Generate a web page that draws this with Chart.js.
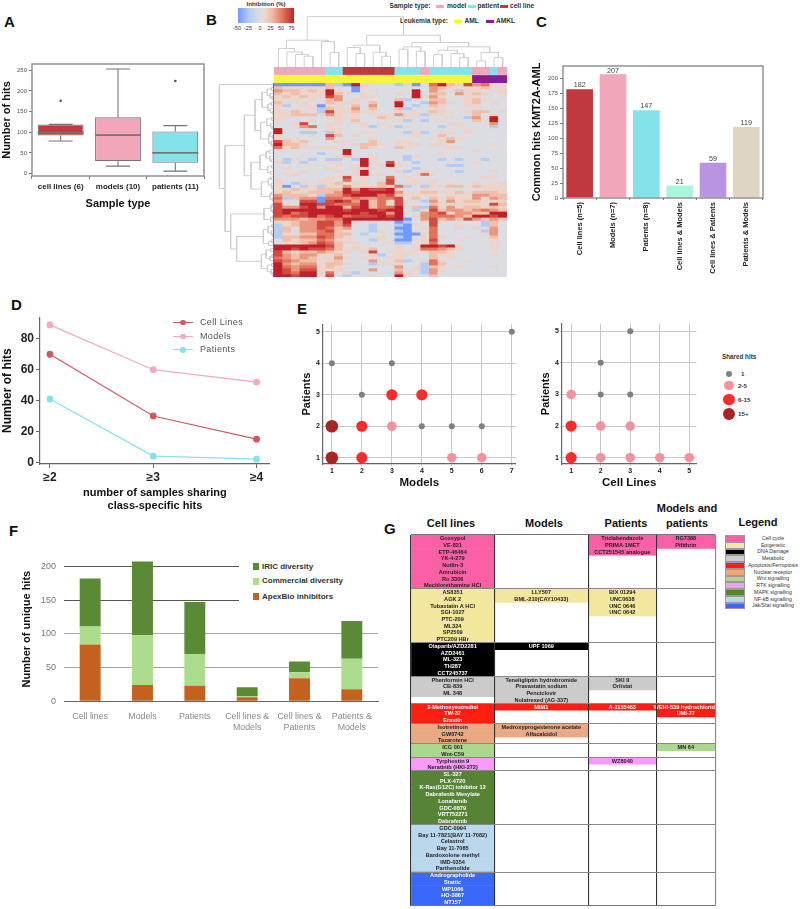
<!DOCTYPE html>
<html>
<head>
<meta charset="utf-8">
<script src="https://cdn.jsdelivr.net/npm/chart.js@4"></script>
<style>
  html, body { margin: 0; padding: 0; background: #fff; }
  #page { position: relative; width: 800px; height: 909px; overflow: hidden; font-family: "Liberation Sans", Arial, sans-serif; }
  #page canvas { position: absolute; }
  .t { position: absolute; white-space: nowrap; line-height: 1; }
  .box { position: absolute; }
</style>
</head>
<body>
<div id="page"></div>
<script>
// Panel A - box plot
const boxLabels = ['cell lines (6)', 'models (10)', 'patients (11)'];
const boxQ1 = [92, 30, 26];
const boxMedian = [99, 93, 50];
const boxQ3 = [119, 136, 102];
const boxLow = [79, 18, 6];
const boxHigh = [119, 253, 116];
const boxOutliers = [176, null, 224];

// Panel B - heatmap, one string per row, digits are levels of levelValues
const levelValues = [-50, -25, 0, 12, 25, 38, 50, 62, 75];
const heatRows = [
  '000000 41 083222 130 2 68437 56 3 3',
  '433333 42 203222 222 2 54323 34 2 3',
  '544343 83 202322 228 2 53243 32 3 3',
  '434333 84 323222 328 2 44253 43 2 3',
  '343433 75 223322 228 3 53223 32 2 2',
  '323232 45 232222 412 2 44223 43 2 2',
  '433323 43 332422 822 1 54323 42 3 2',
  '312330 33 242522 821 2 43223 32 2 2',
  '323231 43 352422 412 2 33222 32 2 2',
  '334321 73 343322 323 2 43323 44 2 3',
  '334443 53 232333 533 1 33222 42 3 2',
  '332222 33 332243 232 2 22321 52 8 2',
  '322232 23 242222 312 1 23222 43 8 2',
  '223722 33 223232 222 2 22332 22 5 2',
  '222562 32 223123 132 2 21232 22 1 2',
  '822222 33 222222 222 2 22223 22 2 2',
  '822112 13 223322 213 1 23323 22 2 2',
  '322232 74 232222 223 2 24222 22 2 2',
  '333222 52 222322 222 2 33432 22 2 2',
  '743422 23 322422 332 2 23522 22 2 2',
  '844322 22 234432 333 2 33222 22 3 2',
  '634333 33 224322 432 2 22332 22 2 2',
  '222222 22 822222 222 2 22222 32 2 2',
  '222221 22 822222 222 2 23222 22 2 2',
  '222222 23 422322 213 2 22222 22 2 2',
  '213212 11 218322 212 2 21212 21 2 2',
  '312122 33 228327 221 2 22222 32 2 2',
  '222232 23 238238 322 2 22112 22 2 2',
  '232222 32 233322 221 2 22222 22 2 2',
  '222322 23 238222 312 3 22212 22 3 2',
  '233222 22 238332 223 6 32222 22 2 2',
  '222222 33 723226 232 2 22222 23 3 2',
  '322223 32 623237 223 2 32222 22 2 2',
  '321323 34 333247 233 3 32322 32 3 3',
  '302131 33 533343 612 1 33443 43 3 3',
  '334334 44 858778 322 3 22222 23 3 3',
  '343344 45 878888 533 4 43343 44 4 3',
  '544431 55 788867 433 3 32333 55 4 4',
  '614550 66 565566 724 2 43433 53 5 4',
  '522770 78 758463 732 1 53534 43 3 3',
  '732887 76 668463 722 2 43333 33 7 4',
  '755785 88 478466 834 1 63534 43 4 3',
  '788888 88 788878 821 3 74554 56 5 4',
  '786788 88 887885 822 5 67355 44 8 8',
  '767786 78 677787 823 5 66654 88 7 8',
  '555455 66 888888 802 5 74547 54 5 4',
  '334557 75 832322 012 3 73222 21 4 2',
  '134557 75 722122 103 2 72232 21 4 2',
  '142557 64 522122 002 3 62232 32 5 2',
  '143556 74 322132 103 2 62222 21 5 2',
  '132446 64 421222 000 3 62222 23 5 2',
  '144557 64 322232 102 3 63223 22 4 2',
  '243446 53 322132 003 3 72232 22 3 2',
  '233457 64 332223 112 3 62222 22 3 2',
  '888888 74 232222 323 8 87832 22 3 2',
  '887877 64 333422 323 6 65432 22 3 2',
  '743445 43 323723 333 3 44322 22 2 2',
  '754553 34 222312 332 2 43322 22 3 2',
  '654543 35 323323 322 2 42322 22 2 2',
  '765443 34 222522 412 3 63223 22 2 2',
  '854553 44 322133 322 1 64222 22 2 2',
  '865663 43 222222 523 1 43232 22 3 2',
  '875773 33 222522 423 1 53222 22 2 2',
  '876883 62 312222 532 1 52222 22 2 2',
  '887882 72 122322 832 2 42222 22 2 2'
];
const sampleTypes = ['model', 'model', 'model', 'model', 'model', 'model', 'patient', 'patient',
  'cell line', 'cell line', 'cell line', 'cell line', 'cell line', 'cell line',
  'patient', 'patient', 'patient', 'model', 'patient', 'patient', 'patient', 'patient', 'patient',
  'model', 'model', 'patient', 'model'];
const leukemiaTypes = ['AML', 'AML', 'AML', 'AML', 'AML', 'AML', 'AML', 'AML', 'AML', 'AML', 'AML', 'AML', 'AML', 'AML',
  'AML', 'AML', 'AML', 'AML', 'AML', 'AML', 'AML', 'AML', 'AML', 'AMKL', 'AMKL', 'AMKL', 'AMKL'];

// dendrograms as [left, right, height], numbers are leaves
const colTree = [
  [[0, [1, [2, [3, 4, 32], 37], 45], 55], [5, [6, 7, 43], 76], 80],
  [[[8, [9, 10, 40], 58], [11, [12, 13, 32], 44], 65],
   [[[14, 15, 53], [16, 17, 47], 60],
    [[[18, 19, 37], [20, [21, 22, 28], 40], 50], [[23, 24, 18], [25, 26, 28], 43], 60], 73], 95],
  150
];
const rowU1a = [[[1, 2, 8], [3, [4, 5, 6], 12], 20], [[6, 7, 9], [8, [9, 10, 5], 11], 18], 36];
const rowU1b = [[[11, 12, 7], [13, [14, 15, 6], 10], 22], [[16, [17, 18, 5], 12], [19, [20, 21, 6], 9], 16], 40];
const rowU2a = [[[22, 23, 14], [24, [25, 26, 8], 13], 24], [[27, 28, 7], [29, 30, 10], 19], 42];
const rowU2b = [[[31, 32, 9], [33, [34, 35, 6], 8], 17], [[36, 37, 7], [38, 39, 5], 12], 38];
const rowL1 = [[[40, 41, 6], [42, 43, 4], 9], [[44, 45, 5], 46, 10], 30];
const rowL2a = [[[47, 48, 6], [49, [50, 51, 4], 8], 18], [[52, 53, 7], 54, 16], 32];
const rowL2b = [[[55, 56, 10], [[57, 58, 6], 59, 12], 24], [[60, 61, 7], [62, [63, 64, 5], 9], 20], 38];
const rowTree = [0,
  [[[rowU1a, rowU1b, 57], [rowU2a, rowU2b, 69], 89],
   [rowL1, [rowL2a, rowL2b, 112], 130], 147],
  164];

// Panel C
const commonLabels = ['Cell lines (n=5)', 'Models (n=7)', 'Patients (n=8)', 'Cell lines & Models', 'Cell lines & Patients', 'Patients & Models'];
const commonHits = [182, 207, 147, 21, 59, 119];

// Panel D
const sharingSteps = [2, 3, 4];
const sharingCellLines = [70, 30, 15];
const sharingModels = [89, 60, 52];
const sharingPatients = [41, 4, 2];

// Panel E - class is an index in sharedClasses
const sharedClasses = ['1', '2-5', '6-15', '15+'];
const modelsX = [1, 2, 5, 6, 1, 2, 3, 4, 5, 6, 2, 3, 4, 1, 3, 7];
const modelsY = [1, 1, 1, 1, 2, 2, 2, 2, 2, 2, 3, 3, 3, 4, 4, 5];
const modelsClass = [3, 2, 1, 1, 3, 2, 1, 0, 0, 0, 0, 2, 2, 0, 0, 0];
const cellLinesX = [1, 2, 3, 4, 5, 1, 2, 3, 1, 2, 3, 2, 3];
const cellLinesY = [1, 1, 1, 1, 1, 2, 2, 2, 3, 3, 3, 4, 5];
const cellLinesClass = [2, 1, 1, 1, 1, 2, 1, 1, 1, 0, 0, 0, 0];

// Panel F
const uniqueLabels = ['Cell lines', 'Models', 'Patients', ['Cell lines &', 'Models'], ['Cell lines &', 'Patients'], ['Patients &', 'Models']];
const apexBio = [84, 24, 23, 6, 34, 18];
const commercial = [27, 74, 47, 2, 9, 45];
const iric = [71, 109, 77, 13, 16, 56];

// Panel G - one entry per group in each column
const groupNames = ['Cell cycle', 'Epigenetic', 'DNA Damage', 'Metabolic', 'Apoptosis/Ferroptosis', 'Nuclear receptor', 'Wnt signalling', 'RTK signalling', 'MAPK signalling', 'NF-kB signalling', 'Jak/Stat signalling'];
const tableCellLines = [
  ['Gossypol', 'VE-821', 'ETP-46464', 'YK-4-279', 'Nutlin-3', 'Amrubicin', 'Ro 3306', 'Mechlorethamine HCl'],
  ['AS8351', 'AGK 2', 'Tubastatin A HCl', 'SGI-1027', 'PTC-209', 'ML324', 'SP2509', 'PTC209 HBr'],
  ['Olaparib/AZD2281', 'AZD2461', 'ML-323', 'TH287', 'CCT245737'],
  ['Phenformin HCl', 'CB-839', 'ML 348'],
  ['2-Methoxyestradiol', 'TW-37', 'Erastin'],
  ['Isotretinoin', 'GW0742', 'Tazarotene'],
  ['ICG 001', 'Wnt-C59'],
  ['Tyrphostin 9', 'Neratinib (HKI-272)'],
  ['SL-327', 'PLX-4720', 'K-Ras(G12C) inhibitor 12', 'Dabrafenib Mesylate', 'Lonafarnib', 'GDC-0879', 'VRT752271', 'Dabrafenib'],
  ['GDC-0994', 'Bay 11-7821(BAY 11-7082)', 'Celastrol', 'Bay 11-7085', 'Bardoxolone methyl', 'IMD-0354', 'Parthenolide'],
  ['Andrographolide', 'Stattic', 'WP1066', 'HO-3867', 'NT157']
];
const tableModels = [
  [],
  ['LLY507', 'BML-210(CAY10433)'],
  ['UPF 1069'],
  ['Teneligliptin hydrobromide', 'Pravastatin sodium', 'Penciclovir', 'Nolatrexed (AG-337)'],
  ['MIM1'],
  ['Medroxyprogesterone acetate', 'Alfacalcidol'],
  [], [], [], [], []
];
const tablePatients = [
  ['Triclabendazole', 'PRIMA-1MET', 'CCT251545 analogue'],
  ['BIX 01294', 'UNC0638', 'UNC 0646', 'UNC 0642'],
  [],
  ['SKI II', 'Orlistat'],
  ['A-1155463'],
  [], [],
  ['WZ8040'],
  [], [], []
];
const tableBoth = [
  ['RG7388', 'Pifithrin'],
  [], [], [],
  ['WEHI-539 hydrochloride', 'UMI-77'],
  [],
  ['MN 64'],
  [], [], [], []
];

// shared styling
const FONT = '"Liberation Sans", Arial, sans-serif';
Chart.defaults.animation = false;
Chart.defaults.responsive = false;
Chart.defaults.font.family = FONT;
Chart.defaults.plugins.legend.display = false;
Chart.defaults.plugins.tooltip.enabled = false;

const page = document.getElementById('page');
const RED = '#c1393f', PINK = '#f1a6ba', TEAL = '#85e1ea';

function mount(left, top, w, h) {
  const c = document.createElement('canvas');
  c.width = w; c.height = h;
  c.style.left = left + 'px';
  c.style.top = top + 'px';
  c.style.width = w + 'px';
  c.style.height = h + 'px';
  page.appendChild(c);
  return c.getContext('2d');
}
function text(str, x, y, css) {
  const d = document.createElement('div');
  d.className = 't';
  d.textContent = str;
  d.style.cssText = 'left:' + x + 'px;top:' + y + 'px;' + (css || '');
  page.appendChild(d);
}
function box(x, y, w, h, css) {
  const d = document.createElement('div');
  d.className = 'box';
  d.style.cssText = 'left:' + x + 'px;top:' + y + 'px;width:' + w + 'px;height:' + h + 'px;' + css;
  page.appendChild(d);
}
// fixed axis size, and no room kept for the tick labels so the plot area stays where it is put
const noPad = s => { s.paddingTop = s.paddingBottom = s.paddingLeft = s.paddingRight = 0; };
const fitW = w => s => { s.width = w; noPad(s); };
const fitH = h => s => { s.height = h; noPad(s); };
const frame = {
  id: 'frame',
  afterDraw(chart) {
    const a = chart.chartArea, c = chart.ctx;
    c.save();
    c.strokeStyle = '#8a8a8a';
    c.lineWidth = 1.4;
    c.strokeRect(a.left, a.top, a.right - a.left, a.bottom - a.top);
    c.restore();
  }
};

// panel letters
[['A', 4, 14], ['B', 206, 12], ['C', 536, 14], ['D', 11, 297], ['E', 297, 301], ['F', 9, 523], ['G', 384, 521]].forEach(p => {
  text(p[0], p[1], p[2], 'font-size:15px;font-weight:bold;color:#111;');
});

// A
const boxParts = {
  id: 'boxParts',
  afterDatasetsDraw(chart) {
    const c = chart.ctx, x = chart.scales.x, y = chart.scales.y;
    c.save();
    c.strokeStyle = '#7a7274';
    boxLabels.forEach((_, i) => {
      const px = x.getPixelForValue(i);
      c.lineWidth = 1.1;
      c.beginPath();
      c.moveTo(px, y.getPixelForValue(boxQ3[i]));
      c.lineTo(px, y.getPixelForValue(boxHigh[i]));
      c.moveTo(px - 12, y.getPixelForValue(boxHigh[i]));
      c.lineTo(px + 12, y.getPixelForValue(boxHigh[i]));
      c.moveTo(px, y.getPixelForValue(boxQ1[i]));
      c.lineTo(px, y.getPixelForValue(boxLow[i]));
      c.moveTo(px - 12, y.getPixelForValue(boxLow[i]));
      c.lineTo(px + 12, y.getPixelForValue(boxLow[i]));
      c.stroke();
      c.lineWidth = 1.6;
      c.beginPath();
      c.moveTo(px - 23, y.getPixelForValue(boxMedian[i]));
      c.lineTo(px + 23, y.getPixelForValue(boxMedian[i]));
      c.stroke();
      if (boxOutliers[i] !== null) {
        c.fillStyle = '#555';
        c.beginPath();
        c.arc(px, y.getPixelForValue(boxOutliers[i]), 1.3, 0, Math.PI * 2);
        c.fill();
      }
    });
    c.restore();
  }
};
new Chart(mount(0, 60, 208, 155), {
  type: 'bar',
  data: {
    labels: boxLabels,
    datasets: [{
      data: boxQ1.map((v, i) => [v, boxQ3[i]]),
      backgroundColor: [RED, PINK, TEAL],
      borderColor: '#7a7274',
      borderWidth: 1.1,
      borderSkipped: false,
      barPercentage: 0.8,
      categoryPercentage: 1
    }]
  },
  options: {
    layout: { padding: { top: 4, right: 4 } },
    scales: {
      x: {
        afterFit: fitH(39),
        grid: { drawOnChartArea: false, tickLength: 3, color: '#777' },
        border: { display: false },
        ticks: { font: { size: 8, weight: 'bold' }, color: '#222', padding: 3, maxRotation: 0 },
        title: { display: true, text: 'Sample type', font: { size: 11, weight: 'bold' }, color: '#111', padding: { top: 0, bottom: 4 } }
      },
      y: {
        min: -5.8, max: 265,
        afterFit: fitW(32),
        afterBuildTicks: s => { s.ticks = [0, 50, 100, 150, 200, 250].map(v => ({ value: v })); },
        grid: { drawOnChartArea: false, tickLength: 3, color: '#777' },
        border: { display: false },
        ticks: { font: { size: 6 }, color: '#555', padding: 2 },
        title: { display: true, text: 'Number of hits', font: { size: 11, weight: 'bold' }, color: '#111', padding: 0 }
      }
    }
  },
  plugins: [boxParts, frame]
});

// B - colour bar and legends
const heatStops = [[-50, [111, 155, 255]], [-25, [181, 203, 243]], [0, [220, 221, 226]], [12, [236, 212, 203]], [25, [241, 190, 170]], [50, [226, 115, 90]], [75, [192, 32, 42]]];
function heatColor(v) {
  for (let i = 1; i < heatStops.length; i++) {
    if (v <= heatStops[i][0]) {
      const a = heatStops[i - 1], b = heatStops[i], f = (v - a[0]) / (b[0] - a[0]);
      return 'rgb(' + a[1].map((n, k) => Math.round(n + (b[1][k] - n) * f)).join(',') + ')';
    }
  }
  return 'rgb(192,32,42)';
}
text('Inhibition (%)', 266, 0.5, 'font-size:6.2px;font-weight:bold;color:#333;transform:translateX(-50%);');
box(238, 8, 56, 15, 'background:linear-gradient(to right,' + heatStops.map(s => heatColor(s[0]) + ' ' + ((s[0] + 50) / 125 * 100) + '%').join(',') + ');');
[['-50', 237], ['-25', 248], ['0', 260], ['25', 270.5], ['50', 281], ['75', 291.5]].forEach(t => {
  text(t[0], t[1], 25.5, 'font-size:5.5px;color:#333;transform:translateX(-50%);');
});
const legB = 'font-size:6.6px;font-weight:bold;color:#333;';
text('Sample type:', 389.5, 2.5, legB);
box(436, 4.5, 8, 3, 'background:' + PINK);
text('model', 447, 2.5, legB);
box(468, 4.5, 8, 3, 'background:' + TEAL);
text('patient', 477.5, 2.5, legB);
box(500, 4.5, 8, 3, 'background:' + RED);
text('cell line', 510, 2.5, legB);
text('Leukemia type:', 400, 17.5, legB);
box(454, 19.5, 8, 3, 'background:#f5f53c');
text('AML', 464.5, 17.5, legB);
box(486, 19.5, 8, 3, 'background:#8a1c96');
text('AMKL', 496, 17.5, legB);

// B - dendrograms
function treeLines(tree, horizontal) {
  const out = [];
  function walk(n) {
    if (typeof n === 'number') return { at: n, h: 0 };
    const l = walk(n[0]), r = walk(n[1]), h = n[2];
    [[l.at, l.h], [l.at, h], [r.at, h], [r.at, r.h]].forEach(p => {
      out.push(horizontal ? { x: p[1], y: p[0] } : { x: p[0], y: p[1] });
    });
    out.push({ x: NaN, y: NaN });
    return { at: (l.at + r.at) / 2, h: h };
  }
  walk(tree);
  return out;
}
const treeStyle = { showLine: true, pointRadius: 0, borderColor: '#cfcfcf', borderWidth: 1, spanGaps: false };
new Chart(mount(274, 16, 233, 51), {
  type: 'scatter',
  data: { datasets: [Object.assign({ data: treeLines(colTree, false) }, treeStyle)] },
  options: {
    scales: {
      x: { display: false, min: -0.5, max: 26.5 },
      y: { display: false, min: 0, max: 152 }
    }
  }
});
new Chart(mount(217, 83, 57, 194), {
  type: 'scatter',
  data: { datasets: [Object.assign({ data: treeLines(rowTree, true) }, treeStyle)] },
  options: {
    scales: {
      x: { display: false, min: 0, max: 171, reverse: true },
      y: { display: false, min: -0.5, max: 64.5, reverse: true }
    }
  }
});

// B - annotation strips
const sampleColors = { 'model': PINK, 'patient': TEAL, 'cell line': RED };
const leukemiaColors = { 'AML': '#f5f53c', 'AMKL': '#8a1c96' };
new Chart(mount(274, 67, 233, 16), {
  type: 'bar',
  data: {
    labels: sampleTypes,
    datasets: [
      { data: sampleTypes.map(() => 1), backgroundColor: sampleTypes.map(s => sampleColors[s]) },
      { data: sampleTypes.map(() => 0.12), backgroundColor: 'rgba(0,0,0,0)' },
      { data: leukemiaTypes.map(() => 1), backgroundColor: leukemiaTypes.map(s => leukemiaColors[s]) }
    ].map(d => Object.assign(d, { barPercentage: 1, categoryPercentage: 1 }))
  },
  options: {
    scales: {
      x: { display: false, stacked: true },
      y: { display: false, stacked: true, min: 0, max: 2.12, reverse: true }
    }
  }
});

// B - heatmap
const heatCells = heatRows.map(r => r.replace(/ /g, ''));
const heatBack = {
  id: 'heatBack',
  beforeDatasetsDraw(chart) {
    const a = chart.chartArea;
    chart.ctx.fillStyle = heatColor(0);
    chart.ctx.fillRect(a.left, a.top, a.right - a.left, a.bottom - a.top);
  }
};
const heatCtx = mount(274, 83, 233, 194);
heatCtx.canvas.style.filter = 'blur(0.6px)';
new Chart(heatCtx, {
  type: 'bar',
  data: {
    labels: sampleTypes.map((_, i) => i),
    datasets: heatCells.map(row => ({
      data: sampleTypes.map(() => 1),
      backgroundColor: sampleTypes.map((_, c) => heatColor(levelValues[+(row[c] || 2)])),
      barPercentage: 1,
      categoryPercentage: 1
    }))
  },
  options: {
    scales: {
      x: { display: false, stacked: true },
      y: { display: false, stacked: true, min: 0, max: heatCells.length, reverse: true }
    }
  },
  plugins: [heatBack]
});
box(272.6, 83, 1.8, 194, 'background:#4a4a4a;opacity:.8;');

// C
const valueLabels = {
  id: 'valueLabels',
  afterDatasetsDraw(chart) {
    const c = chart.ctx;
    c.save();
    c.font = '7.2px ' + FONT;
    c.fillStyle = '#444';
    c.textAlign = 'center';
    c.textBaseline = 'bottom';
    chart.getDatasetMeta(0).data.forEach((bar, i) => {
      c.fillText(commonHits[i], bar.x, bar.y - 0.2);
    });
    c.restore();
  }
};
new Chart(mount(530, 62, 237, 224), {
  type: 'bar',
  data: {
    labels: commonLabels,
    datasets: [{
      data: commonHits,
      backgroundColor: [RED, PINK, TEAL, '#a8f5db', '#b994e2', '#ded6c2'],
      barPercentage: 0.8,
      categoryPercentage: 1
    }]
  },
  options: {
    layout: { padding: { top: 4, right: 4 } },
    scales: {
      x: {
        afterFit: fitH(88),
        grid: { drawOnChartArea: false, tickLength: 2, color: '#777' },
        border: { display: false },
        ticks: { font: { size: 7.5, weight: 'bold' }, color: '#222', minRotation: 90, maxRotation: 90, padding: 2 }
      },
      y: {
        min: 0, max: 221,
        afterFit: fitW(33),
        afterBuildTicks: s => { s.ticks = [0, 25, 50, 75, 100, 125, 150, 175, 200].map(v => ({ value: v })); },
        grid: { drawOnChartArea: false, tickLength: 3, color: '#777' },
        border: { display: false },
        ticks: { font: { size: 6 }, color: '#555', padding: 2 },
        title: { display: true, text: 'Common hits KMT2A-AML', font: { size: 11, weight: 'bold' }, color: '#111', padding: 0 }
      }
    }
  },
  plugins: [valueLabels, frame]
});

// D
const lineSeries = [
  { label: 'Cell Lines', values: sharingCellLines, color: '#cc5a63' },
  { label: 'Models', values: sharingModels, color: '#f5a9bd' },
  { label: 'Patients', values: sharingPatients, color: '#85e1ea' }
];
new Chart(mount(0, 312, 275, 201), {
  type: 'scatter',
  data: {
    datasets: lineSeries.map(s => ({
      label: s.label,
      data: s.values.map((v, i) => ({ x: sharingSteps[i], y: v })),
      showLine: true,
      borderColor: s.color,
      backgroundColor: s.color,
      borderWidth: 1.2,
      pointRadius: 2.8
    }))
  },
  options: {
    layout: { padding: { top: 4, right: 3 } },
    scales: {
      x: {
        min: 1.904, max: 4.128,
        afterFit: fitH(49),
        afterBuildTicks: s => { s.ticks = sharingSteps.map(v => ({ value: v })); },
        grid: { drawOnChartArea: false, tickLength: 4, color: '#666' },
        border: { color: '#666', width: 1.2 },
        ticks: { font: { size: 12, weight: 'bold' }, color: '#222', padding: 2, callback: v => '\u2265' + v },
        title: { display: true, text: ['number of samples sharing', 'class-specific hits'], font: { size: 11, weight: 'bold' }, lineHeight: 1.15, color: '#111', padding: { top: 0, bottom: 0 } }
      },
      y: {
        min: -1.1, max: 94,
        afterFit: fitW(40),
        afterBuildTicks: s => { s.ticks = [0, 20, 40, 60, 80].map(v => ({ value: v })); },
        grid: { drawOnChartArea: false, tickLength: 4, color: '#666' },
        border: { color: '#666', width: 1.2 },
        ticks: { font: { size: 12, weight: 'bold' }, color: '#222', padding: 2 },
        title: { display: true, text: 'Number of hits', font: { size: 12, weight: 'bold' }, color: '#111', padding: { top: 0, bottom: 0 } }
      }
    }
  }
});
lineSeries.forEach((s, i) => {
  const y = 322.7 + i * 13.6;
  box(173, y - 0.6, 20, 1.2, 'background:' + s.color);
  box(180, y - 2.8, 5.6, 5.6, 'border-radius:50%;background:' + s.color);
  text(s.label, 200, y - 4.5, 'font-size:9px;letter-spacing:.35px;color:#555;');
});

// E
const classColors = ['#827f7f', '#f2939b', '#fb2c2c', '#a92424'];
const classRadius = [3, 4.8, 5.6, 6.3];
function sharedChart(ctx, xs, ys, cls, xTitle, xMax, xScale) {
  const steps = [];
  for (let i = 1; i <= xMax; i++) steps.push(i);
  new Chart(ctx, {
    type: 'scatter',
    data: {
      datasets: [{
        data: xs.map((x, i) => ({ x: x, y: ys[i] })),
        pointRadius: cls.map(k => classRadius[k]),
        backgroundColor: cls.map(k => classColors[k]),
        pointBorderWidth: 0
      }]
    },
    options: {
      layout: { padding: { top: 4, right: 3 } },
      scales: {
        x: {
          min: xScale[0], max: xScale[1],
          afterFit: fitH(26),
          afterBuildTicks: s => { s.ticks = steps.map(v => ({ value: v })); },
          grid: { color: '#c8c8c8', tickLength: 2 },
          border: { color: '#666', width: 1.2 },
          ticks: { font: { size: 7, weight: 'bold' }, color: '#222', padding: 1 },
          title: { display: true, text: xTitle, font: { size: 11.5, weight: 'bold' }, color: '#111', padding: 0 }
        },
        y: {
          min: 0.8, max: 5.24,
          afterFit: fitW(23),
          afterBuildTicks: s => { s.ticks = [1, 2, 3, 4, 5].map(v => ({ value: v })); },
          grid: { color: '#c8c8c8', tickLength: 2 },
          border: { color: '#666', width: 1.2 },
          ticks: { font: { size: 7, weight: 'bold' }, color: '#222', padding: 1 },
          title: { display: true, text: 'Patients', font: { size: 11, weight: 'bold' }, color: '#111', padding: { top: 0, bottom: 0 } }
        }
      }
    }
  });
}
sharedChart(mount(300, 318, 222, 172), modelsX, modelsY, modelsClass, 'Models', 7, [0.705, 7.13]);
sharedChart(mount(539, 318, 163, 172), cellLinesX, cellLinesY, cellLinesClass, 'Cell Lines', 5, [0.69, 5.24]);
text('Shared hits', 722, 354, 'font-size:6.3px;font-weight:bold;color:#333;');
[374, 385.5, 399.5, 414].forEach((y, i) => {
  const r = classRadius[i];
  box(729 - r, y - r, r * 2, r * 2, 'border-radius:50%;background:' + classColors[i]);
  text(sharedClasses[i], i === 0 ? 741 : 738, y - 3, 'font-size:6.2px;font-weight:bold;color:#333;');
});

// F
const stackSeries = [
  { label: 'ApexBio inhibitors', values: apexBio, color: '#c5611f' },
  { label: 'Commercial diversity', values: commercial, color: '#acdc8e' },
  { label: 'IRIC diversity', values: iric, color: '#5a8a35' }
];
new Chart(mount(20, 556, 360, 177), {
  type: 'bar',
  data: {
    labels: uniqueLabels,
    datasets: stackSeries.map(s => ({
      label: s.label,
      data: s.values,
      backgroundColor: s.color,
      barPercentage: 0.4,
      categoryPercentage: 1
    }))
  },
  options: {
    layout: { padding: { top: 1, right: 2 } },
    scales: {
      x: {
        stacked: true,
        afterFit: fitH(31.7),
        grid: { display: false },
        border: { color: '#666', width: 1 },
        ticks: { font: { size: 8.8 }, color: '#888', padding: 2, maxRotation: 0 }
      },
      y: {
        stacked: true,
        min: 0, max: 213.8,
        afterFit: fitW(44),
        afterBuildTicks: s => { s.ticks = [0, 50, 100, 150, 200].map(v => ({ value: v })); },
        grid: {
          color: c => (c.tick && c.tick.value >= 150 ? '#555' : '#a8a8a8'),
          lineWidth: 1,
          drawTicks: false
        },
        border: { display: false },
        ticks: { font: { size: 9 }, color: '#777', padding: 8 },
        title: { display: true, text: 'Number of unique hits', font: { size: 11, weight: 'bold' }, color: '#111', padding: 0 }
      }
    }
  }
});
box(239, 557, 141, 48, 'background:#fff;');
stackSeries.slice().reverse().forEach((s, i) => {
  const y = [566.7, 581.3, 596.7][i];
  box(252.5, y - 3.3, 6.6, 6.6, 'background:' + s.color);
  text(s.label, 262, y - 4, 'font-size:8px;font-weight:bold;color:#333;');
});

// G - table
const groupColors = ['#fb5fa5', '#f2e79d', '#000000', '#cbcbcb', '#fe1f12', '#e9a983', '#acd88d', '#fa9afa', '#568335', '#bbd7ec', '#3a68fb'];
const groupInk = ['#222', '#222', '#fff', '#222', '#fff', '#222', '#222', '#222', '#fff', '#222', '#fff'];
const tableColumns = [tableCellLines, tableModels, tablePatients, tableBoth];
const columnEdges = [0, 83.3, 177.3, 245.3, 304.3];
const tableRows = [], rowGroup = [], rowInGroup = [];
groupNames.forEach((g, gi) => {
  const n = Math.max(...tableColumns.map(col => col[gi].length));
  for (let i = 0; i < n; i++) {
    tableRows.push(g + ' ' + i);
    rowGroup.push(gi);
    rowInGroup.push(i);
  }
});
const tableText = {
  id: 'tableText',
  afterDatasetsDraw(chart) {
    const c = chart.ctx, x = chart.scales.x, y = chart.scales.y;
    c.save();
    c.font = 'bold 5.6px "Liberation Sans Narrow", ' + FONT;
    c.textAlign = 'center';
    c.textBaseline = 'middle';
    tableColumns.forEach((col, ci) => {
      const px = x.getPixelForValue((columnEdges[ci] + columnEdges[ci + 1]) / 2);
      tableRows.forEach((_, r) => {
        const name = col[rowGroup[r]][rowInGroup[r]];
        if (name) {
          c.fillStyle = groupInk[rowGroup[r]];
          c.fillText(name, px, y.getPixelForValue(r) + 0.2);
        }
      });
    });
    c.restore();
  }
};
new Chart(mount(409, 533, 310, 375), {
  type: 'bar',
  data: {
    labels: tableRows,
    datasets: tableColumns.map((col, ci) => ({
      data: tableRows.map((_, r) => (col[rowGroup[r]][rowInGroup[r]] ? [columnEdges[ci] + 0.5, columnEdges[ci + 1] - 0.5] : null)),
      backgroundColor: tableRows.map((_, r) => groupColors[rowGroup[r]]),
      grouped: false,
      barPercentage: 1,
      categoryPercentage: 1
    }))
  },
  options: {
    indexAxis: 'y',
    layout: { padding: { left: 2, top: 2, right: 3.7, bottom: 2.3 } },
    scales: {
      x: {
        position: 'top',
        min: 0, max: 304.3,
        afterFit: fitH(0),
        afterBuildTicks: s => { s.ticks = columnEdges.map(v => ({ value: v })); },
        grid: { z: 1, color: c => (c.index === 4 ? '#888' : '#333'), lineWidth: 1.1, drawTicks: false },
        border: { display: false },
        ticks: { display: false }
      },
      y: {
        afterFit: fitW(0),
        grid: {
          z: 1,
          offset: true,
          drawTicks: false,
          lineWidth: 1,
          color: c => {
            const i = c.index;
            if (i === undefined || i === 0 || i >= tableRows.length) return '#777';
            return rowGroup[i] !== rowGroup[i - 1] ? '#888' : 'rgba(0,0,0,0)';
          }
        },
        border: { display: false },
        ticks: { display: false }
      }
    }
  },
  plugins: [tableText]
});
const headCss = 'font-size:11px;font-weight:bold;color:#111;transform:translateX(-50%);';
text('Cell lines', 451, 518, headCss);
text('Models', 544, 518, headCss);
text('Patients', 626, 518, headCss);
text('Models and', 687, 503, headCss);
text('patients', 687, 518, headCss);
text('Legend', 758, 517, headCss);
groupNames.forEach((g, i) => {
  const y = 535 + i * 6.75;
  box(724.5, y, 20.5, 6.75, 'box-sizing:border-box;border:.7px solid #999;background:' + groupColors[i]);
  text(g, 773, y + 0.9, 'font-size:5.2px;color:#333;transform:translateX(-50%);');
});
</script>
</body>
</html>
